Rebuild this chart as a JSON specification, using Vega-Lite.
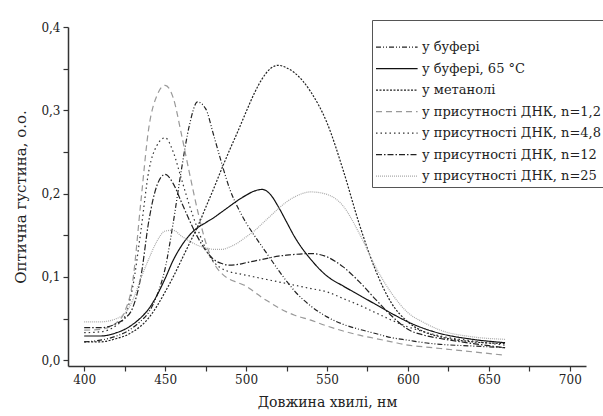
{
  "$schema": "https://vega.github.io/schema/vega-lite/v6.json",
  "width": 518,
  "height": 339,
  "autosize": {"type": "none"},
  "padding": {"left": 68, "top": 27, "right": 17, "bottom": 50},
  "background": "white",
  "config": {
    "view": {"stroke": null},
    "font": "DejaVu Serif",
    "axis": {"grid": false, "domainColor": "#333", "domainWidth": 1.5, "tickColor": "#333", "tickWidth": 1.2, "tickSize": 5, "labelFont": "DejaVu Serif", "labelFontSize": 12, "labelColor": "#222", "titleFont": "DejaVu Serif", "titleFontSize": 14, "titleFontWeight": "normal", "titleColor": "#222"}
  },
  "data": {"values": [
    {"x":400,"у буфері":0.022,"у буфері, 65 °C":0.029,"у метанолі":0.022,"у присутності ДНК, n=1,2":0.036,"у присутності ДНК, n=4,8":0.033,"у присутності ДНК, n=12":0.039,"у присутності ДНК, n=25":0.046},
    {"x":410,"у буфері":0.024,"у буфері, 65 °C":0.029,"у метанолі":0.022,"у присутності ДНК, n=1,2":0.037,"у присутності ДНК, n=4,8":0.034,"у присутності ДНК, n=12":0.039,"у присутності ДНК, n=25":0.046},
    {"x":420,"у буфері":0.029,"у буфері, 65 °C":0.033,"у метанолі":0.026,"у присутності ДНК, n=1,2":0.045,"у присутності ДНК, n=4,8":0.042,"у присутності ДНК, n=12":0.044,"у присутності ДНК, n=25":0.05},
    {"x":425,"у буфері":0.033,"у буфері, 65 °C":0.037,"у метанолі":0.029,"у присутності ДНК, n=1,2":0.058,"у присутності ДНК, n=4,8":0.052,"у присутності ДНК, n=12":0.05,"у присутності ДНК, n=25":0.056},
    {"x":430,"у буфері":0.039,"у буфері, 65 °C":0.043,"у метанолі":0.034,"у присутності ДНК, n=1,2":0.095,"у присутності ДНК, n=4,8":0.088,"у присутності ДНК, n=12":0.063,"у присутності ДНК, n=25":0.072},
    {"x":435,"у буфері":0.047,"у буфері, 65 °C":0.051,"у метанолі":0.041,"у присутності ДНК, n=1,2":0.19,"у присутності ДНК, n=4,8":0.155,"у присутності ДНК, n=12":0.1,"у присутності ДНК, n=25":0.098},
    {"x":440,"у буфері":0.058,"у буфері, 65 °C":0.062,"у метанолі":0.051,"у присутності ДНК, n=1,2":0.28,"у присутності ДНК, n=4,8":0.228,"у присутності ДНК, n=12":0.168,"у присутності ДНК, n=25":0.122},
    {"x":445,"у буфері":0.078,"у буфері, 65 °C":0.078,"у метанолі":0.065,"у присутності ДНК, n=1,2":0.318,"у присутності ДНК, n=4,8":0.258,"у присутності ДНК, n=12":0.21,"у присутності ДНК, n=25":0.143},
    {"x":450,"у буфері":0.11,"у буфері, 65 °C":0.098,"у метанолі":0.082,"у присутності ДНК, n=1,2":0.33,"у присутності ДНК, n=4,8":0.267,"у присутності ДНК, n=12":0.223,"у присутності ДНК, n=25":0.155},
    {"x":455,"у буфері":0.165,"у буфері, 65 °C":0.12,"у метанолі":0.1,"у присутності ДНК, n=1,2":0.315,"у присутності ДНК, n=4,8":0.25,"у присутності ДНК, n=12":0.212,"у присутності ДНК, n=25":0.156},
    {"x":460,"у буфері":0.228,"у буфері, 65 °C":0.137,"у метанолі":0.12,"у присутності ДНК, n=1,2":0.272,"у присутності ДНК, n=4,8":0.218,"у присутності ДНК, n=12":0.19,"у присутності ДНК, n=25":0.149},
    {"x":465,"у буфері":0.282,"у буфері, 65 °C":0.15,"у метанолі":0.14,"у присутності ДНК, n=1,2":0.225,"у присутності ДНК, n=4,8":0.186,"у присутності ДНК, n=12":0.168,"у присутності ДНК, n=25":0.143},
    {"x":470,"у буфері":0.31,"у буфері, 65 °C":0.159,"у метанолі":0.16,"у присутності ДНК, n=1,2":0.18,"у присутності ДНК, n=4,8":0.158,"у присутності ДНК, n=12":0.148,"у присутності ДНК, n=25":0.138},
    {"x":475,"у буфері":0.302,"у буфері, 65 °C":0.165,"у метанолі":0.183,"у присутності ДНК, n=1,2":0.142,"у присутності ДНК, n=4,8":0.134,"у присутності ДНК, n=12":0.132,"у присутності ДНК, n=25":0.135},
    {"x":480,"у буфері":0.27,"у буфері, 65 °C":0.171,"у метанолі":0.206,"у присутності ДНК, n=1,2":0.117,"у присутності ДНК, n=4,8":0.118,"у присутності ДНК, n=12":0.121,"у присутності ДНК, n=25":0.133},
    {"x":485,"у буфері":0.236,"у буфері, 65 °C":0.178,"у метанолі":0.23,"у присутності ДНК, n=1,2":0.104,"у присутності ДНК, n=4,8":0.11,"у присутності ДНК, n=12":0.116,"у присутності ДНК, n=25":0.133},
    {"x":490,"у буфері":0.205,"у буфері, 65 °C":0.185,"у метанолі":0.253,"у присутності ДНК, n=1,2":0.097,"у присутності ДНК, n=4,8":0.106,"у присутності ДНК, n=12":0.114,"у присутності ДНК, n=25":0.136},
    {"x":495,"у буфері":0.183,"у буфері, 65 °C":0.192,"у метанолі":0.275,"у присутності ДНК, n=1,2":0.093,"у присутності ДНК, n=4,8":0.104,"у присутності ДНК, n=12":0.115,"у присутності ДНК, n=25":0.141},
    {"x":500,"у буфері":0.165,"у буфері, 65 °C":0.198,"у метанолі":0.298,"у присутності ДНК, n=1,2":0.089,"у присутності ДНК, n=4,8":0.102,"у присутності ДНК, n=12":0.117,"у присутності ДНК, n=25":0.148},
    {"x":505,"у буфері":0.15,"у буфері, 65 °C":0.203,"у метанолі":0.32,"у присутності ДНК, n=1,2":0.082,"у присутності ДНК, n=4,8":0.1,"у присутності ДНК, n=12":0.119,"у присутності ДНК, n=25":0.155},
    {"x":510,"у буфері":0.136,"у буфері, 65 °C":0.205,"у метанолі":0.338,"у присутності ДНК, n=1,2":0.075,"у присутності ДНК, n=4,8":0.098,"у присутності ДНК, n=12":0.121,"у присутності ДНК, n=25":0.164},
    {"x":515,"у буфері":0.122,"у буфері, 65 °C":0.199,"у метанолі":0.35,"у присутності ДНК, n=1,2":0.069,"у присутності ДНК, n=4,8":0.096,"у присутності ДНК, n=12":0.123,"у присутності ДНК, n=25":0.173},
    {"x":520,"у буфері":0.108,"у буфері, 65 °C":0.184,"у метанолі":0.354,"у присутності ДНК, n=1,2":0.063,"у присутності ДНК, n=4,8":0.094,"у присутності ДНК, n=12":0.125,"у присутності ДНК, n=25":0.182},
    {"x":525,"у буфері":0.095,"у буфері, 65 °C":0.166,"у метанолі":0.351,"у присутності ДНК, n=1,2":0.058,"у присутності ДНК, n=4,8":0.092,"у присутності ДНК, n=12":0.126,"у присутності ДНК, n=25":0.19},
    {"x":530,"у буфері":0.083,"у буфері, 65 °C":0.148,"у метанолі":0.345,"у присутності ДНК, n=1,2":0.054,"у присутності ДНК, n=4,8":0.09,"у присутності ДНК, n=12":0.127,"у присутності ДНК, n=25":0.196},
    {"x":540,"у буфері":0.065,"у буфері, 65 °C":0.121,"у метанолі":0.322,"у присутності ДНК, n=1,2":0.048,"у присутності ДНК, n=4,8":0.086,"у присутності ДНК, n=12":0.128,"у присутності ДНК, n=25":0.202},
    {"x":550,"у буфері":0.052,"у буфері, 65 °C":0.101,"у метанолі":0.285,"у присутності ДНК, n=1,2":0.041,"у присутності ДНК, n=4,8":0.082,"у присутності ДНК, n=12":0.124,"у присутності ДНК, n=25":0.199},
    {"x":560,"у буфері":0.043,"у буфері, 65 °C":0.089,"у метанолі":0.228,"у присутності ДНК, n=1,2":0.035,"у присутності ДНК, n=4,8":0.074,"у присутності ДНК, n=12":0.112,"у присутності ДНК, n=25":0.185},
    {"x":570,"у буфері":0.037,"у буфері, 65 °C":0.078,"у метанолі":0.163,"у присутності ДНК, n=1,2":0.03,"у присутності ДНК, n=4,8":0.066,"у присутності ДНК, n=12":0.094,"у присутності ДНК, n=25":0.152},
    {"x":580,"у буфері":0.032,"у буфері, 65 °C":0.067,"у метанолі":0.108,"у присутності ДНК, n=1,2":0.026,"у присутності ДНК, n=4,8":0.057,"у присутності ДНК, n=12":0.073,"у присутності ДНК, n=25":0.112},
    {"x":590,"у буфері":0.027,"у буфері, 65 °C":0.056,"у метанолі":0.068,"у присутності ДНК, n=1,2":0.022,"у присутності ДНК, n=4,8":0.048,"у присутності ДНК, n=12":0.053,"у присутності ДНК, n=25":0.08},
    {"x":600,"у буфері":0.024,"у буфері, 65 °C":0.046,"у метанолі":0.046,"у присутності ДНК, n=1,2":0.018,"у присутності ДНК, n=4,8":0.04,"у присутності ДНК, n=12":0.037,"у присутності ДНК, n=25":0.057},
    {"x":610,"у буфері":0.021,"у буфері, 65 °C":0.038,"у метанолі":0.034,"у присутності ДНК, n=1,2":0.016,"у присутності ДНК, n=4,8":0.034,"у присутності ДНК, n=12":0.03,"у присутності ДНК, n=25":0.045},
    {"x":620,"у буфері":0.019,"у буфері, 65 °C":0.032,"у метанолі":0.028,"у присутності ДНК, n=1,2":0.014,"у присутності ДНК, n=4,8":0.029,"у присутності ДНК, n=12":0.026,"у присутності ДНК, n=25":0.036},
    {"x":640,"у буфері":0.017,"у буфері, 65 °C":0.025,"у метанолі":0.022,"у присутності ДНК, n=1,2":0.01,"у присутності ДНК, n=4,8":0.023,"у присутності ДНК, n=12":0.02,"у присутності ДНК, n=25":0.028},
    {"x":660,"у буфері":0.015,"у буфері, 65 °C":0.021,"у метанолі":0.02,"у присутності ДНК, n=1,2":0.006,"у присутності ДНК, n=4,8":0.018,"у присутності ДНК, n=12":0.015,"у присутності ДНК, n=25":0.025}
  ]},
  "transform": [
    {"fold": ["у буфері", "у буфері, 65 °C", "у метанолі", "у присутності ДНК, n=1,2", "у присутності ДНК, n=4,8", "у присутності ДНК, n=12", "у присутності ДНК, n=25"], "as": ["series", "y"]}
  ],
  "mark": {"type": "line", "interpolate": "monotone", "strokeWidth": 1.2},
  "encoding": {
    "x": {"field": "x", "type": "quantitative", "scale": {"domain": [390, 710], "nice": false, "zero": false},
      "axis": {"title": "Довжина хвилі, нм", "values": [400,425,450,475,500,525,550,575,600,625,650,675,700], "labelExpr": "datum.value % 50 == 0 ? datum.label : ''", "labelPadding": 3, "titlePadding": 10}},
    "y": {"field": "y", "type": "quantitative", "scale": {"domain": [-0.007, 0.4], "nice": false, "zero": false},
      "axis": {"title": "Оптична густина, о.о.", "titleFontSize": 15, "values": [0,0.05,0.1,0.15,0.2,0.25,0.3,0.35,0.4], "labelExpr": "(round(datum.value*100) % 10 == 0) ? replace(format(datum.value, '.1f'), '.', ',') : ''", "labelPadding": 3, "titlePadding": 12}},
    "color": {"field": "series", "type": "nominal",
      "scale": {"domain": ["у буфері", "у буфері, 65 °C", "у метанолі", "у присутності ДНК, n=1,2", "у присутності ДНК, n=4,8", "у присутності ДНК, n=12", "у присутності ДНК, n=25"],
        "range": ["#222222", "#111111", "#222222", "#999999", "#333333", "#222222", "#aaaaaa"]},
      "legend": {"title": " ", "orient": "none", "legendX": 304, "legendY": -7, "symbolType": "M-1,0H4.2", "symbolSize": 256, "symbolStrokeWidth": 1.2, "labelFont": "DejaVu Serif", "labelFontSize": 13, "labelColor": "#222", "titleFontSize": 12, "titlePadding": 3.2, "padding": 3, "rowPadding": 5.5, "strokeColor": "#555", "fillColor": "white", "labelOffset": 29, "labelLimit": 300}},
    "strokeDash": {"field": "series", "type": "nominal",
      "scale": {"domain": ["у буфері", "у буфері, 65 °C", "у метанолі", "у присутності ДНК, n=1,2", "у присутності ДНК, n=4,8", "у присутності ДНК, n=12", "у присутності ДНК, n=25"],
        "range": [[5,2,1,2,1,2], [1,0], [2,1.5], [6,4], [1.5,3], [6,2,1.5,2], [1,1]]},
      "legend": null}
  }
}
